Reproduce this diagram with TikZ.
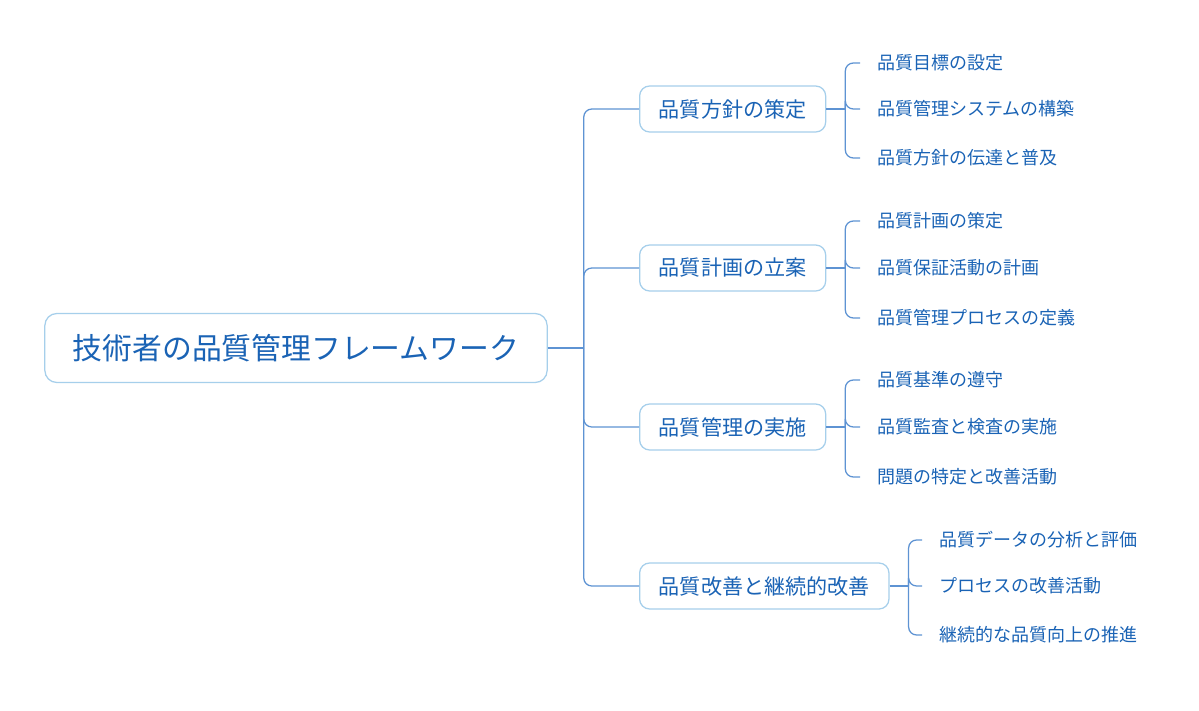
\documentclass[tikz,border=0pt]{standalone}
\usepackage{fontspec}
\setmainfont{Noto Sans CJK JP}
\usetikzlibrary{positioning}
\definecolor{mmtext}{HTML}{1A63B5}
\definecolor{mmborder}{HTML}{A6CFEB}
\definecolor{mmline}{HTML}{5E93D3}

\begin{document}
\begin{tikzpicture}[x=0.025cm, y=-0.025cm,
    rootbox/.style={rectangle, rounded corners=0.3cm, draw=mmborder, fill=white,
                    line width=0.9pt, text=mmtext, inner xsep=0.7cm,
                    minimum height=1.725cm, font=\fontsize{21.2pt}{24pt}\selectfont},
    topic/.style={rectangle, rounded corners=0.25cm, draw=mmborder, fill=white,
                  line width=0.9pt, text=mmtext, inner xsep=0.48cm,
                  minimum height=1.15cm, font=\fontsize{15pt}{18pt}\selectfont},
    leaf/.style={anchor=west, inner xsep=0.425cm, inner ysep=0pt, text=mmtext,
                 font=\fontsize{12.8pt}{15pt}\selectfont},
    link/.style={draw=mmline, line width=0.9pt},
    elbow/.style={link, rounded corners=0.2cm}
  ]
    \useasboundingbox (0,0) rectangle (1199,711);

    % root and main topics
    \node[rootbox] (root) at (296,348) {技術者の品質管理フレームワーク};
    \node[topic, anchor=west] (policy) at (639,109) {品質方針の策定};
    \node[topic, anchor=west] (plan) at (639,268) {品質計画の立案};
    \node[topic, anchor=west] (impl) at (639,427) {品質管理の実施};
    \node[topic, anchor=west] (improve) at (639,586) {品質改善と継続的改善};

    % leaves
    \node[leaf] (p1) at (860,63) {品質目標の設定};
    \node[leaf] (p2) at (860,109) {品質管理システムの構築};
    \node[leaf] (p3) at (860,158) {品質方針の伝達と普及};
    \node[leaf] (q1) at (860,221) {品質計画の策定};
    \node[leaf] (q2) at (860,268) {品質保証活動の計画};
    \node[leaf] (q3) at (860,318) {品質管理プロセスの定義};
    \node[leaf] (r1) at (860,380) {品質基準の遵守};
    \node[leaf] (r2) at (860,427) {品質監査と検査の実施};
    \node[leaf] (r3) at (860,477) {問題の特定と改善活動};
    \node[leaf] (s1) at (922,540) {品質データの分析と評価};
    \node[leaf] (s2) at (922,586) {プロセスの改善活動};
    \node[leaf] (s3) at (922,635) {継続的な品質向上の推進};

    % trunk
    \draw[link] (root.east) -- ++(36,0) coordinate (rj);
    \foreach \t in {policy, plan, impl, improve}
      \draw[elbow] (rj) |- (\t.west);

    % branches
    \draw[link] (policy.east) -- ++(19,0) coordinate (pj);
    \draw[link] (plan.east) -- ++(19,0) coordinate (qj);
    \draw[link] (impl.east) -- ++(19,0) coordinate (rj2);
    \draw[link] (improve.east) -- ++(19,0) coordinate (sj);
    \foreach \l in {p1, p2, p3} \draw[elbow] (pj) |- (\l.west);
    \foreach \l in {q1, q2, q3} \draw[elbow] (qj) |- (\l.west);
    \foreach \l in {r1, r2, r3} \draw[elbow] (rj2) |- (\l.west);
    \foreach \l in {s1, s2, s3} \draw[elbow] (sj) |- (\l.west);
  \end{tikzpicture}
\end{document}
